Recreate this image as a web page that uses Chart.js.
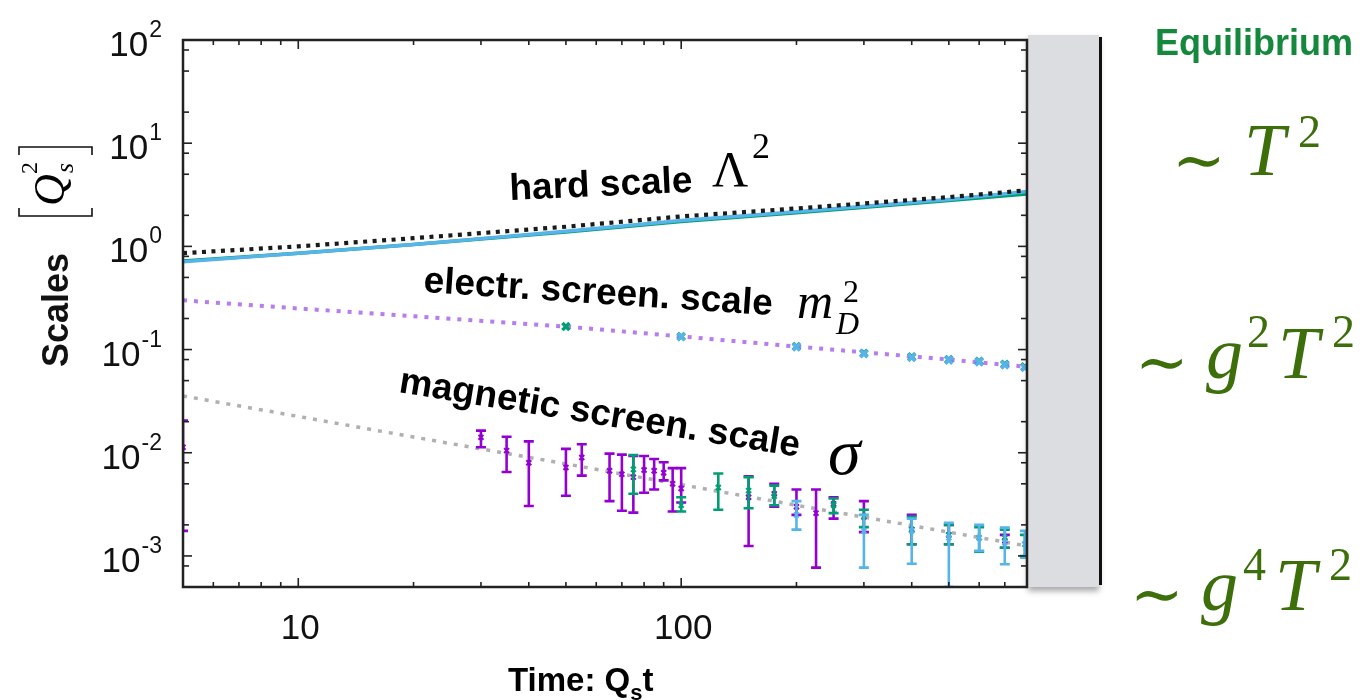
<!DOCTYPE html>
<html>
<head>
<meta charset="utf-8">
<script src="https://cdn.jsdelivr.net/npm/chart.js@4.4.0/dist/chart.umd.min.js"></script>
<style>
    html, body { margin: 0; padding: 0; background: #fff; }
</style>
</head>
<body>
<canvas id="scalesChart" width="1367" height="700"></canvas>
<script>
// fitted curves, sampled at these times (Q_s t)
const fitTimes = [5, 10, 20, 50, 100, 200, 500, 800];
const hardFit = [0.86, 1.0, 1.2, 1.55, 1.95, 2.33, 3.0, 3.5];
const hardBlue = [0.71, 0.86, 1.04, 1.4, 1.78, 2.17, 2.85, 3.4];
const hardGreen = [0.72, 0.86, 1.04, 1.38, 1.74, 2.12, 2.78, 3.22];
const elecFit = [0.30, 0.25, 0.21, 0.167, 0.134, 0.107, 0.080, 0.068];
const magFit = [0.0355, 0.0225, 0.0142, 0.0078, 0.0049, 0.0031, 0.0017, 0.00125];

// electric screening scale, measured points
const elecTimes = [50, 100, 200, 300, 400, 500, 600, 700, 790];
const elecGreen = [0.167, 0.134, 0.107, 0.092, 0.085, 0.080, 0.077, 0.072, 0.068];
const elecBlue = [null, 0.133, 0.106, 0.091, 0.084, 0.079, 0.076, 0.071, 0.067];

// magnetic screening scale, measured points with error bars
const magPurpleT = [5, 30, 35, 40, 50, 55, 65, 70, 75, 80, 85, 90, 95, 100, 150, 175, 200, 225, 250, 300, 400, 500, 700];
const magPurpleY = [0.0113, 0.0141, 0.0105, 0.0080, 0.0072, 0.0090, 0.0067, 0.0062, 0.0058, 0.0068, 0.0067, 0.0064, 0.0050, 0.0045, 0.0037, 0.0040, 0.0030, 0.0026, 0.0032, 0.0024, 0.0018, 0.0016, 0.0014];
const magPurpleLo = [0.00175, 0.0113, 0.0065, 0.00305, 0.00383, 0.0060, 0.0034, 0.00274, 0.00263, 0.0041, 0.0044, 0.0054, 0.0027, 0.0033, 0.00125, 0.0030, 0.0025, 0.00077, 0.0023, 0.0017, 0.0013, 0.0013, 0.0012];
const magPurpleHi = [0.0205, 0.0164, 0.0143, 0.0129, 0.0109, 0.0121, 0.0098, 0.0096, 0.0093, 0.0093, 0.0087, 0.0081, 0.0071, 0.0071, 0.0059, 0.0050, 0.0044, 0.0044, 0.0037, 0.0034, 0.0025, 0.0020, 0.0016];

const magGreenT = [75, 100, 125, 150, 175, 250, 300, 400, 500, 600, 700, 790];
const magGreenY = [0.0069, 0.0031, 0.0046, 0.0043, 0.0038, 0.0031, 0.0024, 0.0018, 0.0016, 0.0015, 0.0015, 0.0013];
const magGreenLo = [0.0040, 0.0027, 0.0028, 0.0029, 0.0031, 0.0026, 0.0019, 0.0013, 0.0013, 0.0011, 0.0012, 0.0010];
const magGreenHi = [0.0095, 0.0037, 0.0063, 0.0058, 0.0048, 0.0036, 0.0028, 0.0024, 0.0020, 0.0019, 0.0018, 0.0016];

const magBlueT = [200, 300, 400, 500, 600, 700, 790];
const magBlueY = [0.0025, 0.00175, 0.00175, 0.0015, 0.0015, 0.00135, 0.0013];
const magBlueLo = [0.0018, 0.00077, 0.00084, 0.0005, 0.00112, 0.00083, 0.00096];
const magBlueHi = [0.0034, 0.0025, 0.0023, 0.0021, 0.0020, 0.00188, 0.00175];

// axes
const xTickValues = [10, 100];
const xTickLabels = ['10', '100'];
const yTickExponents = ['2', '1', '0', '-1', '-2', '-3'];
const xMinorSteps = [1, 2, 3, 4, 5, 6, 7, 8, 9];
const yMinorSteps = [1, 2, 5, 8];

const SANS = '"Liberation Sans", Arial, Helvetica, sans-serif';
const SERIF = '"Liberation Serif", "Times New Roman", serif';
const PURPLE = '#9400d3';
const GREEN = '#009e73';
const BLUE = '#56b4e9';
const MATH_GREEN = '#3c6e0a';

const toPoints = (xs, ys) => xs.map((x, i) => ({ x: x, y: ys[i] }));

function txt(ctx, s, x, y, font, color, align) {
    ctx.font = font;
    ctx.fillStyle = color || '#000';
    ctx.textAlign = align || 'left';
    ctx.textBaseline = 'alphabetic';
    ctx.fillText(s, x, y);
}

// vertical error bars with caps, drawn right after their dataset
const errorBarPlugin = {
    id: 'errorBars',
    afterDatasetDraw(chart, args) {
        const ds = chart.data.datasets[args.index];
        if (!ds.errLo) return;
        const { ctx, chartArea: a, scales: { x, y } } = chart;
        ctx.save();
        ctx.beginPath();
        ctx.rect(a.left, a.top, a.right - a.left, a.bottom - a.top);
        ctx.clip();
        ctx.strokeStyle = ds.borderColor;
        ctx.lineWidth = 2.6;
        ds.data.forEach((p, i) => {
            const px = x.getPixelForValue(p.x);
            const lo = y.getPixelForValue(ds.errLo[i]);
            const hi = y.getPixelForValue(ds.errHi[i]);
            ctx.beginPath();
            ctx.moveTo(px, lo); ctx.lineTo(px, hi);
            ctx.moveTo(px - 5, lo); ctx.lineTo(px + 5, lo);
            ctx.moveTo(px - 5, hi); ctx.lineTo(px + 5, hi);
            ctx.stroke();
        });
        ctx.restore();
    }
};

// frame, inward ticks, tick labels, titles and annotations
const decorPlugin = {
    id: 'decor',
    beforeDraw(chart) {
        const ctx = chart.ctx;
        ctx.save();
        ctx.fillStyle = '#fff';
        ctx.fillRect(0, 0, chart.width, chart.height);
        ctx.restore();
    },
    afterDraw(chart) {
        const { ctx, chartArea: a, scales: { x, y } } = chart;
        ctx.save();

        // grey side panel with shadow
        ctx.save();
        ctx.shadowColor = 'rgba(0,0,0,0.35)';
        ctx.shadowBlur = 6;
        ctx.shadowOffsetY = 4;
        ctx.fillStyle = '#dcdde0';
        ctx.fillRect(a.right + 1, 35, 71, a.bottom - 35);
        ctx.restore();
        ctx.fillStyle = '#111';
        ctx.fillRect(a.right + 72, 37, 3, a.bottom - 39);

        // frame
        ctx.strokeStyle = '#222';
        ctx.lineWidth = 2.5;
        ctx.strokeRect(a.left, a.top, a.right - a.left, a.bottom - a.top);

        // ticks on all four sides, pointing inward
        ctx.lineWidth = 1.6;
        const tick = (x1, y1, x2, y2) => {
            ctx.beginPath(); ctx.moveTo(x1, y1); ctx.lineTo(x2, y2); ctx.stroke();
        };
        for (let e = 0; e <= 2; e++) {
            xMinorSteps.forEach(m => {
                const v = m * Math.pow(10, e);
                if (v <= x.min || v >= x.max) return;
                const px = x.getPixelForValue(v);
                const len = m === 1 ? 9 : 5;
                tick(px, a.bottom, px, a.bottom - len);
                tick(px, a.top, px, a.top + len);
            });
        }
        for (let e = -4; e <= 2; e++) {
            yMinorSteps.forEach(m => {
                const v = m * Math.pow(10, e);
                if (v <= y.min || v >= y.max) return;
                const py = y.getPixelForValue(v);
                const len = m === 1 ? 9 : 6;
                tick(a.left, py, a.left + len, py);
                tick(a.right, py, a.right - len, py);
            });
        }

        // tick labels
        xTickValues.forEach((v, i) => {
            txt(ctx, xTickLabels[i], x.getPixelForValue(v) + 2, a.bottom + 52, '35px ' + SANS, '#111', 'center');
        });
        yTickExponents.forEach(e => {
            const py = y.getPixelForValue(Math.pow(10, Number(e)));
            ctx.font = '23px ' + SANS;
            const sw = ctx.measureText(e).width;
            txt(ctx, e, 162 - sw, py - 3, '23px ' + SANS, '#111');
            txt(ctx, '10', 161 - sw, py + 16, '35px ' + SANS, '#111', 'right');
        });

        // x title
        txt(ctx, 'Time: Q', 508, 691, 'bold 33px ' + SANS);
        ctx.font = 'bold 33px ' + SANS;
        const tw = ctx.measureText('Time: Q').width;
        txt(ctx, 's', 508 + tw, 700, 'bold 22px ' + SANS);
        ctx.font = 'bold 22px ' + SANS;
        const sw = ctx.measureText('s').width;
        txt(ctx, 't', 508 + tw + sw, 691, 'bold 33px ' + SANS);

        // y title
        ctx.save();
        ctx.translate(68, 310);
        ctx.rotate(-Math.PI / 2);
        txt(ctx, 'Scales', 0, 0, 'bold 36px ' + SANS, '#111', 'center');
        ctx.restore();

        ctx.save();
        ctx.translate(64, 206);
        ctx.rotate(-Math.PI / 2);
        txt(ctx, 'Q', 0, 0, 'italic 44px ' + SERIF);
        txt(ctx, '2', 32, -27, '24px ' + SERIF);
        txt(ctx, 's', 33, 9, 'italic 26px ' + SERIF);
        ctx.restore();
        // brackets around [Q_s^2]
        ctx.strokeStyle = '#111';
        ctx.lineWidth = 1.6;
        ctx.beginPath();
        ctx.moveTo(19, 208); ctx.lineTo(19, 216); ctx.lineTo(92, 216); ctx.lineTo(92, 208);
        ctx.moveTo(19, 155); ctx.lineTo(19, 147); ctx.lineTo(92, 147); ctx.lineTo(92, 155);
        ctx.stroke();

        // curve annotations
        const label = (s, x0, y0, deg) => {
            ctx.save();
            ctx.translate(x0, y0);
            ctx.rotate(deg * Math.PI / 180);
            txt(ctx, s, 0, 0, 'bold 37px ' + SANS);
            ctx.restore();
        };
        label('hard scale', 510, 200, -2.6);
        txt(ctx, '\u039B', 712, 186, '50px ' + SERIF);
        txt(ctx, '2', 752, 158, '36px ' + SERIF);

        label('electr. screen. scale', 423, 292, 3.8);
        txt(ctx, 'm', 797, 318, 'italic 50px ' + SERIF);
        txt(ctx, '2', 843, 302, '32px ' + SERIF);
        txt(ctx, 'D', 836, 334, 'italic 32px ' + SERIF);

        label('magnetic screen. scale', 398, 392, 9.2);
        txt(ctx, '\u03C3', 828, 474, 'italic 66px ' + SERIF);

        // equilibrium column
        txt(ctx, 'Equilibrium', 1254, 55, 'bold 36px ' + SANS, '#14883c', 'center');
        const TILDE = '64px "DejaVu Serif", serif';
        txt(ctx, '\u223C', 1172, 182, TILDE, MATH_GREEN);
        txt(ctx, 'T', 1244, 175, 'italic 74px ' + SERIF, MATH_GREEN);
        txt(ctx, '2', 1298, 147, '46px ' + SERIF, MATH_GREEN);

        txt(ctx, '\u223C', 1135, 384, TILDE, MATH_GREEN);
        txt(ctx, 'g', 1206, 378, 'italic 74px ' + SERIF, MATH_GREEN);
        txt(ctx, '2', 1247, 347, '46px ' + SERIF, MATH_GREEN);
        txt(ctx, 'T', 1278, 378, 'italic 74px ' + SERIF, MATH_GREEN);
        txt(ctx, '2', 1332, 347, '46px ' + SERIF, MATH_GREEN);

        txt(ctx, '\u223C', 1130, 616, TILDE, MATH_GREEN);
        txt(ctx, 'g', 1201, 610, 'italic 74px ' + SERIF, MATH_GREEN);
        txt(ctx, '4', 1243, 580, '46px ' + SERIF, MATH_GREEN);
        txt(ctx, 'T', 1275, 610, 'italic 74px ' + SERIF, MATH_GREEN);
        txt(ctx, '2', 1329, 580, '46px ' + SERIF, MATH_GREEN);

        ctx.restore();
    }
};

const dotted = (data, color, width, dash) => ({
    data: data,
    showLine: true,
    borderColor: color,
    borderWidth: width,
    borderDash: dash,
    borderCapStyle: 'butt',
    pointRadius: 0
});
const solid = (data, color) => ({
    data: data,
    showLine: true,
    borderColor: color,
    borderWidth: 3.5,
    pointRadius: 0
});
const bars = (xs, ys, lo, hi, color) => ({
    data: toPoints(xs, ys),
    showLine: false,
    borderColor: color,
    backgroundColor: color,
    pointStyle: 'crossRot',
    pointRadius: 3.5,
    borderWidth: 2,
    errLo: lo,
    errHi: hi
});
const marks = (xs, ys, color) => ({
    data: toPoints(xs, ys).filter(p => p.y !== null),
    showLine: false,
    borderColor: color,
    backgroundColor: color,
    pointStyle: 'crossRot',
    pointRadius: 5,
    borderWidth: 3.5
});

// first dataset is drawn on top
new Chart(document.getElementById('scalesChart'), {
    type: 'scatter',
    data: {
        datasets: [
            dotted(toPoints(fitTimes, hardFit), '#1a1a1a', 4.2, [4, 5.5]),
            solid(toPoints(fitTimes, hardBlue), BLUE),
            solid(toPoints(fitTimes, hardGreen), GREEN),
            marks(elecTimes, elecBlue, BLUE),
            marks(elecTimes, elecGreen, GREEN),
            dotted(toPoints(fitTimes, elecFit), '#b77cf0', 4, [4, 7]),
            bars(magBlueT, magBlueY, magBlueLo, magBlueHi, BLUE),
            bars(magGreenT, magGreenY, magGreenLo, magGreenHi, GREEN),
            bars(magPurpleT, magPurpleY, magPurpleLo, magPurpleHi, PURPLE),
            dotted(toPoints(fitTimes, magFit), '#b0b0b0', 3.5, [4, 7])
        ]
    },
    options: {
        responsive: false,
        animation: false,
        layout: { padding: { left: 183, top: 40, right: 340, bottom: 113 } },
        scales: {
            x: { type: 'logarithmic', min: 5, max: 800, display: false },
            y: { type: 'logarithmic', min: 0.0005, max: 100, display: false }
        },
        plugins: {
            legend: { display: false },
            tooltip: { enabled: false }
        }
    },
    plugins: [errorBarPlugin, decorPlugin]
});
</script>
</body>
</html>
